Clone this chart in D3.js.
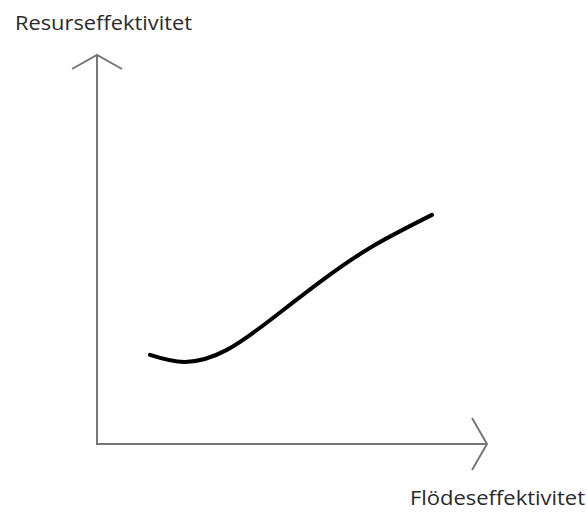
<!DOCTYPE html>
<html>
<head>
<meta charset="utf-8">
<script src="https://cdn.jsdelivr.net/npm/d3@7"></script>
<style>
  body { margin: 0; background: #fff; }
  svg { display: block; }
</style>
</head>
<body>
<svg id="chart" width="587" height="512"></svg>
<script>
// Axis titles
const xTitle = "Flödeseffektivitet";
const yTitle = "Resurseffektivitet";

// Curve (domain 0..100 on both axes)
const curveX = [13.6, 22.6, 33.3, 45.1, 57.9, 70.8, 85.9];
const curveY = [22.9, 21.1, 24.2, 32.4, 42.2, 50.9, 58.9];

const svg = d3.select("#chart");

// Scales: axes run from origin to the arrow tips
const x = d3.scaleLinear().domain([0, 100]).range([97, 487]);
const y = d3.scaleLinear().domain([0, 100]).range([444, 55]);

const axisColor = "#777";

// Axis lines
const axes = svg.append("g")
    .attr("fill", "none")
    .attr("stroke", axisColor)
    .attr("stroke-width", 2);

axes.append("path")
    .attr("d", d3.line()([[x(0), y(100)], [x(0), y(0)], [x(100), y(0)]]));

// Arrow heads (open, like a ">" shape)
axes.append("path")
    .attr("d", d3.line()([[x(0) - 25, y(100) + 14], [x(0), y(100)], [x(0) + 25, y(100) + 14]]));
axes.append("path")
    .attr("d", d3.line()([[x(100) - 15, y(0) - 26], [x(100), y(0)], [x(100) - 15, y(0) + 26]]));

// Curve
const pts = curveX.map((v, i) => [v, curveY[i]]);
svg.append("path")
    .datum(pts)
    .attr("fill", "none")
    .attr("stroke", "#000")
    .attr("stroke-width", 4)
    .attr("stroke-linecap", "round")
    .attr("d", d3.line()
        .x(d => x(d[0]))
        .y(d => y(d[1]))
        .curve(d3.curveNatural));

// Titles
svg.append("text")
    .attr("x", 15)
    .attr("y", 30)
    .attr("font-family", "'Open Sans', sans-serif")
    .attr("font-size", 20)
    .attr("fill", "#2a2a2a")
    .attr("textLength", 177)
    .attr("lengthAdjust", "spacingAndGlyphs")
    .text(yTitle);

svg.append("text")
    .attr("x", 410)
    .attr("y", 505)
    .attr("font-family", "'Open Sans', sans-serif")
    .attr("font-size", 20)
    .attr("fill", "#2a2a2a")
    .attr("textLength", 175)
    .attr("lengthAdjust", "spacingAndGlyphs")
    .text(xTitle);
</script>
</body>
</html>
